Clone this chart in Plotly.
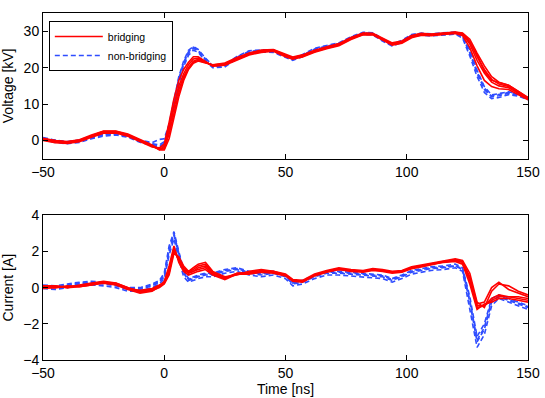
import plotly.graph_objects as go
from plotly.subplots import make_subplots

# time samples [ns], shared by all traces
t_ns = [-50, -45, -40, -35, -30, -25, -20, -15, -10, -5, -2, 0, 2, 4, 6, 8, 10, 12, 14, 17,
        20, 25, 30, 35, 40, 45, 50, 53, 57, 62, 67, 72, 77, 82, 86, 90, 94, 98, 102, 106,
        110, 115, 120, 123, 126, 129, 132, 135, 138, 142, 146, 150]

# voltage [kV], bridging shots
v_br1 = [0.3, -0.3, -0.5, 0.0, 1.2, 2.3, 2.4, 1.5, 0.0, -1.5, -2.3, -2.0, 3.0, 9.0, 14.0, 17.5, 20.0, 21.8, 22.3, 21.5,
         20.6, 21.0, 22.5, 23.8, 24.5, 24.8, 23.3, 22.6, 23.2, 24.5, 25.5, 26.3, 28.0, 29.3, 29.2, 27.8, 26.5, 27.0, 28.5, 29.2,
         29.0, 29.3, 29.6, 29.2, 26.5, 22.0, 18.5, 16.0, 15.0, 14.5, 13.0, 11.5]
v_br2 = [0.6, 0.0, -0.3, 0.2, 1.5, 2.6, 2.6, 1.8, 0.3, -1.2, -2.6, -2.6, 0.5, 6.0, 12.0, 16.5, 19.5, 21.2, 21.8, 21.3,
         20.8, 21.3, 22.8, 24.0, 24.8, 25.0, 23.6, 22.9, 23.5, 24.8, 25.7, 26.6, 28.3, 29.5, 29.4, 28.0, 26.8, 27.3, 28.8, 29.4,
         29.2, 29.5, 29.8, 29.5, 27.8, 24.0, 20.5, 17.5, 16.0, 15.2, 13.6, 11.8]
v_br3 = [0.0, -0.6, -0.8, -0.3, 0.9, 2.0, 2.1, 1.2, -0.3, -1.8, -2.0, -1.0, 5.0, 11.5, 16.5, 19.5, 21.5, 23.0, 23.0, 21.8,
         20.4, 20.7, 22.2, 23.5, 24.2, 24.5, 23.0, 22.3, 22.9, 24.2, 25.2, 26.0, 27.7, 29.0, 29.0, 27.5, 26.2, 26.7, 28.2, 28.9,
         28.8, 29.1, 29.4, 28.8, 25.5, 20.5, 16.5, 14.8, 14.2, 14.0, 12.6, 11.2]
v_br4 = [0.4, -0.1, -0.4, 0.1, 1.3, 2.5, 2.5, 1.6, 0.1, -1.4, -2.4, -2.3, 1.8, 7.5, 13.0, 17.0, 19.8, 21.5, 22.0, 21.4,
         20.7, 21.1, 22.6, 23.9, 24.6, 24.9, 23.4, 22.7, 23.3, 24.6, 25.6, 26.4, 28.1, 29.4, 29.3, 27.9, 26.6, 27.1, 28.6, 29.3,
         29.1, 29.4, 29.7, 29.4, 27.2, 23.0, 19.5, 16.8, 15.5, 14.8, 13.3, 11.6]
v_br5 = [0.2, -0.4, -0.6, -0.1, 1.1, 2.2, 2.3, 1.4, -0.1, -1.6, -2.5, -1.6, 3.8, 10.0, 15.0, 18.3, 20.8, 22.4, 22.6, 21.6,
         20.5, 20.9, 22.4, 23.7, 24.4, 24.7, 23.2, 22.5, 23.1, 24.4, 25.4, 26.2, 27.9, 29.2, 29.1, 27.7, 26.4, 26.9, 28.4, 29.1,
         28.9, 29.2, 29.5, 29.3, 27.0, 23.5, 19.0, 16.5, 16.0, 15.2, 13.5, 11.7]

# voltage [kV], non-bridging shots
v_nb1 = [0.5, -0.2, -0.6, -0.2, 0.8, 1.5, 1.8, 1.2, -0.2, -1.0, -1.5, -0.8, 3.5, 10.0, 16.5, 21.0, 24.0, 25.3, 24.6, 22.2,
         20.3, 20.5, 22.8, 24.3, 24.6, 24.5, 23.0, 22.3, 23.3, 25.0, 25.8, 26.5, 28.2, 29.4, 29.3, 27.6, 26.2, 27.2, 28.8, 29.2,
         29.0, 29.2, 29.5, 28.5, 24.0, 18.5, 14.0, 12.0, 12.3, 13.0, 12.5, 11.5]
v_nb2 = [0.8, 0.1, -0.3, 0.1, 1.0, 1.8, 2.0, 1.4, 0.1, -0.6, 0.3, 0.5, 4.5, 11.0, 17.5, 21.8, 24.8, 25.8, 25.0, 22.6,
         20.6, 20.8, 23.1, 24.6, 24.9, 24.8, 23.3, 22.6, 23.6, 25.3, 26.1, 26.8, 28.5, 29.7, 29.6, 27.9, 26.5, 27.5, 29.1, 29.5,
         29.3, 29.5, 29.8, 28.9, 24.8, 19.3, 14.8, 12.5, 12.8, 13.4, 12.8, 11.8]
v_nb3 = [0.2, -0.5, -0.9, -0.5, 0.5, 1.2, 1.5, 0.9, -0.5, -1.3, -1.8, -1.4, 2.5, 9.0, 15.5, 20.3, 23.4, 24.8, 24.2, 21.8,
         20.0, 20.2, 22.5, 24.0, 24.3, 24.2, 22.7, 22.0, 23.0, 24.7, 25.5, 26.2, 27.9, 29.1, 29.0, 27.3, 25.9, 26.9, 28.5, 28.9,
         28.7, 28.9, 29.2, 28.1, 23.2, 17.6, 13.2, 11.5, 11.8, 12.6, 12.2, 11.2]
v_nb4 = [0.6, 0.0, -0.4, 0.0, 1.0, 1.7, 1.9, 1.1, -0.1, -0.9, -1.2, -0.3, 4.0, 10.5, 17.0, 21.4, 24.4, 25.6, 24.8, 22.4,
         20.4, 20.7, 22.9, 24.5, 24.7, 24.6, 23.1, 22.4, 23.4, 25.1, 25.9, 26.6, 28.3, 29.5, 29.4, 27.7, 26.3, 27.3, 28.9, 29.3,
         29.1, 29.3, 29.6, 28.7, 24.4, 18.9, 14.4, 12.2, 12.6, 13.2, 12.6, 11.6]

# current [A], bridging shots
i_br1 = [0.0, 0.05, 0.05, 0.1, 0.2, 0.3, 0.2, -0.05, -0.2, -0.1, 0.1, 0.3, 1.0, 2.1, 1.5, 1.0, 0.8, 0.9, 1.1, 1.2,
         0.8, 0.5, 0.8, 0.8, 0.9, 0.85, 0.7, 0.4, 0.35, 0.7, 0.9, 1.05, 0.95, 0.9, 1.0, 0.95, 0.85, 0.9, 1.1, 1.2,
         1.3, 1.45, 1.5, 1.4, 0.5, -1.0, -1.0, -0.7, -0.5, -0.5, -0.6, -0.7]
i_br2 = [0.1, 0.1, 0.0, 0.15, 0.25, 0.35, 0.25, 0.0, -0.25, -0.15, 0.0, 0.2, 0.7, 1.9, 1.7, 1.2, 0.9, 1.1, 1.3, 1.4,
         0.9, 0.6, 0.7, 0.9, 1.0, 0.9, 0.75, 0.45, 0.4, 0.75, 0.95, 1.1, 1.0, 0.95, 1.05, 1.0, 0.9, 0.95, 1.15, 1.25,
         1.35, 1.5, 1.6, 1.5, 0.8, -0.8, -1.1, -0.2, 0.2, 0.1, -0.2, -0.4]
i_br3 = [-0.05, 0.0, 0.1, 0.05, 0.15, 0.25, 0.15, -0.1, -0.3, -0.2, 0.05, 0.35, 1.2, 2.3, 1.4, 0.9, 0.7, 0.8, 0.9, 1.0,
         0.7, 0.45, 0.75, 0.75, 0.85, 0.8, 0.65, 0.35, 0.3, 0.65, 0.85, 1.0, 0.9, 0.85, 0.95, 0.9, 0.8, 0.85, 1.05, 1.15,
         1.25, 1.4, 1.45, 1.3, 0.2, -1.2, -0.9, -0.8, -0.6, -0.6, -0.7, -0.8]
i_br4 = [0.05, 0.0, 0.05, 0.1, 0.2, 0.3, 0.2, -0.05, -0.15, -0.05, 0.15, 0.3, 0.9, 2.0, 1.6, 1.1, 0.85, 1.0, 1.2, 1.3,
         0.85, 0.55, 0.8, 0.85, 0.95, 0.9, 0.7, 0.4, 0.35, 0.7, 0.9, 1.05, 0.95, 0.9, 1.0, 0.95, 0.85, 0.9, 1.1, 1.2,
         1.3, 1.45, 1.55, 1.45, 0.6, -0.9, -0.8, 0.0, 0.3, -0.1, -0.3, -0.5]
i_br5 = [0.0, 0.1, 0.0, 0.05, 0.15, 0.3, 0.25, 0.0, -0.2, -0.1, 0.05, 0.25, 0.8, 2.2, 1.5, 1.0, 0.8, 0.9, 1.0, 1.1,
         0.75, 0.5, 0.75, 0.8, 0.9, 0.85, 0.7, 0.4, 0.35, 0.7, 0.9, 1.0, 0.95, 0.9, 1.0, 0.95, 0.85, 0.9, 1.1, 1.2,
         1.3, 1.4, 1.5, 1.4, 0.4, -1.1, -1.0, -0.6, -0.4, -0.5, -0.5, -0.6]

# current [A], non-bridging shots
i_nb1 = [0.05, 0.0, 0.1, 0.2, 0.25, 0.2, 0.1, -0.1, -0.1, 0.1, 0.3, 0.6, 2.0, 2.9, 1.8, 0.8, 0.4, 0.5, 0.6, 0.7,
         0.7, 0.9, 1.0, 0.8, 0.7, 0.8, 0.6, 0.2, 0.3, 0.6, 0.8, 0.8, 0.75, 0.7, 0.65, 0.6, 0.4, 0.6, 0.85, 0.95,
         1.05, 1.1, 1.2, 1.0, -0.8, -3.0, -2.3, -0.8, -0.5, -0.7, -0.9, -1.1]
i_nb2 = [0.15, 0.1, 0.2, 0.3, 0.35, 0.3, 0.2, 0.0, 0.0, 0.2, 0.4, 0.8, 2.3, 3.1, 2.0, 1.0, 0.5, 0.6, 0.7, 0.8,
         0.8, 1.0, 1.1, 0.9, 0.8, 0.9, 0.7, 0.3, 0.4, 0.7, 0.9, 0.9, 0.85, 0.8, 0.75, 0.7, 0.5, 0.7, 0.95, 1.05,
         1.15, 1.2, 1.3, 1.1, -0.5, -2.7, -2.0, -0.6, -0.4, -0.6, -0.8, -1.0]
i_nb3 = [-0.05, -0.1, 0.0, 0.1, 0.15, 0.1, 0.0, -0.2, -0.2, 0.0, 0.2, 0.5, 1.8, 2.7, 1.6, 0.6, 0.3, 0.4, 0.5, 0.6,
         0.6, 0.8, 0.9, 0.7, 0.6, 0.7, 0.5, 0.1, 0.2, 0.5, 0.7, 0.7, 0.65, 0.6, 0.55, 0.5, 0.3, 0.5, 0.75, 0.85,
         0.95, 1.0, 1.1, 0.9, -1.1, -3.3, -2.6, -1.0, -0.6, -0.8, -1.0, -1.2]
i_nb4 = [0.1, 0.05, 0.15, 0.25, 0.3, 0.25, 0.15, -0.05, -0.05, 0.15, 0.35, 0.7, 2.1, 3.0, 1.9, 0.9, 0.45, 0.55, 0.65, 0.75,
         0.75, 0.95, 1.05, 0.85, 0.75, 0.85, 0.65, 0.25, 0.35, 0.65, 0.85, 0.85, 0.8, 0.75, 0.7, 0.65, 0.45, 0.65, 0.9, 1.0,
         1.1, 1.15, 1.2, 1.05, -0.7, -2.9, -2.2, -0.7, -0.45, -0.65, -0.85, -1.05]

RED = "#ff0000"
BLUE = "#2f4dff"

fig = make_subplots(rows=2, cols=1)

# blue first so the red band sits on top, like the original
for row, series in ((1, [v_nb1, v_nb2, v_nb3, v_nb4]), (2, [i_nb1, i_nb2, i_nb3, i_nb4])):
    for k, y in enumerate(series):
        fig.add_trace(go.Scatter(x=t_ns, y=y, mode="lines", name="non-bridging",
                                 line=dict(color=BLUE, width=1.6, dash="5px,3px"),
                                 showlegend=(row == 1 and k == 0), legendrank=2),
                      row=row, col=1)

for row, series in ((1, [v_br1, v_br2, v_br3, v_br4, v_br5]), (2, [i_br1, i_br2, i_br3, i_br4, i_br5])):
    for k, y in enumerate(series):
        fig.add_trace(go.Scatter(x=t_ns, y=y, mode="lines", name="bridging",
                                 line=dict(color=RED, width=1.6),
                                 showlegend=(row == 1 and k == 0), legendrank=1),
                      row=row, col=1)

axis_style = dict(showline=True, linecolor="black", linewidth=1, mirror="ticks",
                  ticks="inside", ticklen=5, tickcolor="black", showgrid=False, zeroline=False,
                  tickfont=dict(size=14, color="black"))

fig.update_xaxes(range=[-50, 150], tickvals=[-50, 0, 50, 100, 150], **axis_style)
fig.update_xaxes(title=dict(text="Time [ns]", standoff=0, font=dict(size=14, color="black")), row=2, col=1)
fig.update_yaxes(**axis_style)
fig.update_yaxes(range=[-5, 35], tickvals=[0, 10, 20, 30],
                 title=dict(text="Voltage [kV]", standoff=6, font=dict(size=14, color="black")), row=1, col=1)
fig.update_yaxes(range=[-4, 4], tickvals=[-4, -2, 0, 2, 4],
                 title=dict(text="Current [A]", standoff=6, font=dict(size=14, color="black")), row=2, col=1)

fig.update_layout(
    width=545, height=398,
    margin=dict(l=43, r=16, t=5, b=38),
    paper_bgcolor="white", plot_bgcolor="white",
    font=dict(family="Liberation Sans, Arial, sans-serif", color="black"),
    yaxis=dict(domain=[0.58, 1.0]),
    yaxis2=dict(domain=[0.0, 0.417]),
    legend=dict(x=0.012, y=0.977, xanchor="left", yanchor="top",
                bgcolor="white", bordercolor="black", borderwidth=1,
                font=dict(size=10.5), tracegroupgap=0, itemwidth=48),
)

# drop the browser's default body margin so the 545x398 figure fills the window
fig.write_html("out.html", config={"displayModeBar": False},
               post_script="document.body.style.margin='0';")
